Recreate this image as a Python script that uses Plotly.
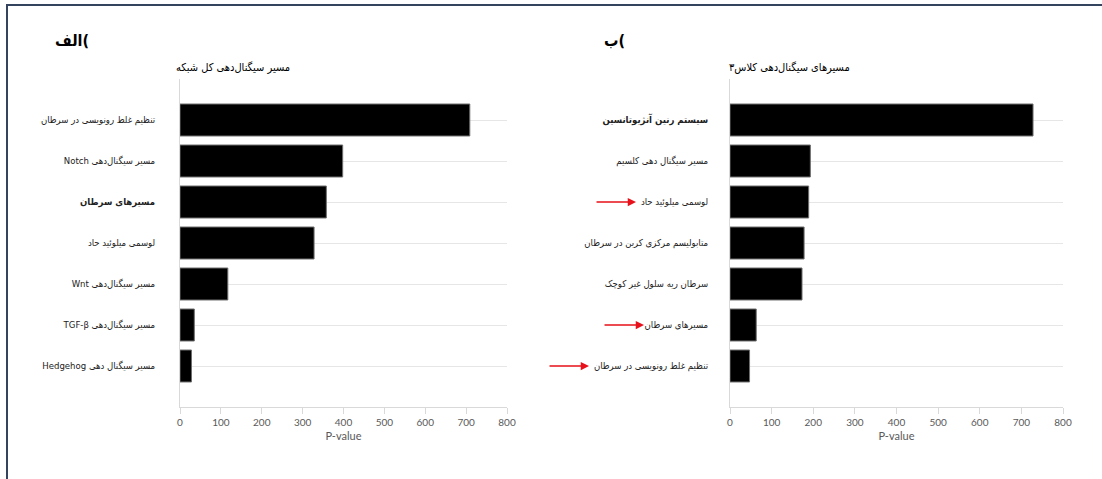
import plotly.graph_objects as go

# ---------------- data ----------------
panel_a_label = "الف("
panel_b_label = "ب("
title_a = "مسیر سیگنال‌دهی کل شبکه"
title_b = "مسیرهای سیگنال‌دهی کلاس۳"
x_title = "P-value"

cats_a = [
    "تنظیم غلط رونویسی در سرطان",
    "Notch مسیر سیگنال‌دهی",
    "مسیرهای سرطان",
    "لوسمی میلوئید حاد",
    "Wnt مسیر سیگنال‌دهی",
    "TGF-β مسیر سیگنال‌دهی",
    "Hedgehog مسیر سیگنال دهی",
]
vals_a = [709, 398, 358, 328, 117, 35, 28]

cats_b = [
    "سیستم رنین آنژیوتانسین",
    "مسیر سیگنال دهی کلسیم",
    "لوسمی میلوئید حاد",
    "متابولیسم مرکزی کربن در سرطان",
    "سرطان ریه سلول غیر کوچک",
    "مسیرهای سرطان",
    "تنظیم غلط رونویسی در سرطان",
]
vals_b = [728, 193, 189, 178, 173, 63, 47]

bold_a = ["مسیرهای سرطان"]
bold_b = ["سیستم رنین آنژیوتانسین"]
arrowed_b = ["لوسمی میلوئید حاد", "مسیرهای سرطان", "تنظیم غلط رونویسی در سرطان"]

x_ticks = [0, 100, 200, 300, 400, 500, 600, 700, 800]

# ---------------- figure ----------------
W, H = 1102, 479
FONT = "DejaVu Sans Condensed, DejaVu Sans, sans-serif"
NUMFONT = "Lato, Open Sans, sans-serif"

fig = go.Figure()
bar_style = dict(orientation="h", marker=dict(color="black", line=dict(color="#6e6e6e", width=1)),
                 hoverinfo="x+y", showlegend=False)
fig.add_trace(go.Bar(x=vals_a, y=cats_a, xaxis="x", yaxis="y", **bar_style))
fig.add_trace(go.Bar(x=vals_b, y=cats_b, xaxis="x2", yaxis="y2", **bar_style))

def tt(cats, bold):
    return [f"<b>{c}</b>" if c in bold else c for c in cats]

ydom = [1 - 407 / H, 1 - 79 / H]
xaxis_common = dict(range=[0, 800], tickvals=x_ticks, showgrid=False, zeroline=False,
                    showline=True, linecolor="#d9d9d9", linewidth=1,
                    ticks="outside", ticklen=6, tickcolor="#d9d9d9",
                    tickfont=dict(family=NUMFONT, size=10, color="#595959"),
                    title=dict(text=x_title, font=dict(family=NUMFONT, size=11, color="#595959"), standoff=5),
                    automargin=False, fixedrange=True)
yaxis_common = dict(type="category", range=[7, -1], showgrid=True, gridcolor="#e6e6e6", gridwidth=1,
                    showline=True, linecolor="#d9d9d9", linewidth=1, ticks="",
                    tickfont=dict(family=FONT, size=9.5, color="#222222"),
                    domain=ydom, automargin=False, fixedrange=True)

fig.update_layout(
    width=W, height=H, autosize=False, margin=dict(l=0, r=0, t=0, b=0, autoexpand=False),
    paper_bgcolor="white", plot_bgcolor="white", bargap=0.22,
    xaxis=dict(domain=[180 / W, 507 / W], anchor="y", **xaxis_common),
    xaxis2=dict(domain=[730 / W, 1063 / W], anchor="y2", **xaxis_common),
    yaxis=dict(anchor="x", categoryorder="array", categoryarray=cats_a, ticklabelstandoff=22,
               tickvals=cats_a, ticktext=tt(cats_a, bold_a), **yaxis_common),
    yaxis2=dict(anchor="x2", categoryorder="array", categoryarray=cats_b, ticklabelstandoff=19,
                tickvals=cats_b, ticktext=tt(cats_b, bold_b), **yaxis_common),
)

# titles and panel labels
fig.add_annotation(text=title_a, x=233 / W, y=1 - 68 / H, xref="paper", yref="paper",
                   xanchor="center", yanchor="middle",
                   showarrow=False, font=dict(family=FONT, size=11, color="black"))
fig.add_annotation(text=title_b, x=789 / W, y=1 - 67 / H, xref="paper", yref="paper",
                   xanchor="center", yanchor="middle",
                   showarrow=False, font=dict(family=FONT, size=11, color="black"))
fig.add_annotation(text=f"<b>{panel_a_label}</b>", x=72 / W, y=1 - 40 / H, xref="paper", yref="paper",
                   xanchor="center", yanchor="middle",
                   showarrow=False, font=dict(family=FONT, size=16, color="black"))
fig.add_annotation(text=f"<b>{panel_b_label}</b>", x=614 / W, y=1 - 41 / H, xref="paper", yref="paper",
                   xanchor="center", yanchor="middle",
                   showarrow=False, font=dict(family=FONT, size=16, color="black"))

# red arrows (head x positions in px)
arrow_heads = [636, 644, 589]
for cat, hx in zip(arrowed_b, arrow_heads):
    fig.add_annotation(x=hx / W, y=cat, xref="paper", yref="y2", text="",
                       showarrow=True, ax=-41, ay=0, axref="pixel", ayref="pixel",
                       arrowhead=2, arrowsize=1.1, arrowwidth=1.5, arrowcolor="#e8101a")

# frame lines
fig.add_shape(type="line", xref="paper", yref="paper", x0=6 / W, x1=1, y0=1 - 5 / H, y1=1 - 5 / H,
              line=dict(color="#34445f", width=2))
fig.add_shape(type="line", xref="paper", yref="paper", x0=7 / W, x1=7 / W, y0=0, y1=1 - 5 / H,
              line=dict(color="#34445f", width=2))

post = (
    "document.documentElement.style.overflow='hidden';"
    "document.body.style.margin='0';document.body.style.padding='0';"
    "document.body.style.overflow='hidden';"
)
fig.write_html("out.html", config={"displayModeBar": False, "responsive": False}, post_script=post)
